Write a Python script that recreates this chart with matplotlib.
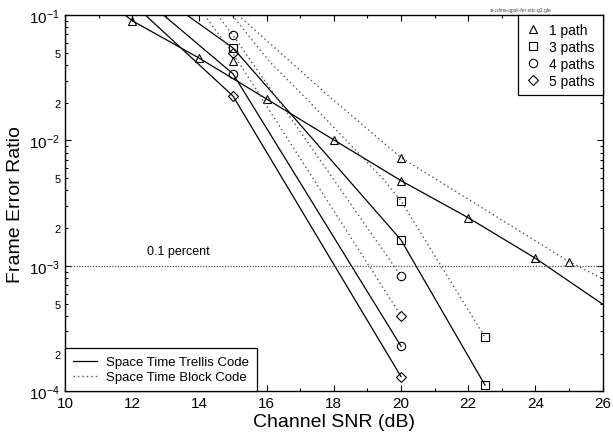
import matplotlib
matplotlib.use("Agg")
import matplotlib.pyplot as plt
from matplotlib.lines import Line2D
from matplotlib.ticker import LogLocator, FuncFormatter, MultipleLocator
import numpy as np

plt.rcParams['font.family'] = ['Liberation Sans', 'DejaVu Sans']

# Space Time Trellis Code (solid)
snr_sttc_1 = [10, 12, 14, 16, 18, 20, 22, 24, 26]
fer_sttc_1 = [0.24, 0.090, 0.0452, 0.0214, 0.0101, 0.00478, 0.00242, 0.00115, 0.000495]
snr_sttc_3 = [10, 15, 20, 22.5]
fer_sttc_3 = [0.49, 0.0547, 0.00161, 0.000112]
snr_sttc_4 = [10, 15, 20]
fer_sttc_4 = [0.46, 0.034, 0.000229]
snr_sttc_5 = [10, 15, 20]
fer_sttc_5 = [0.39, 0.0226, 0.000131]

# Space Time Block Code (dotted curves)
snr_stbc_1 = [15.15, 17.95, 20, 25, 26]
fer_stbc_1 = [0.1, 0.0214, 0.0073, 0.00108, 0.00079]
snr_stbc_3 = [14.97, 16.1, 17.19, 19.47, 20, 22.5]
fer_stbc_3 = [0.1, 0.0422, 0.0214, 0.00492, 0.0033, 0.00027]
snr_stbc_4 = [14.54, 15, 20]
fer_stbc_4 = [0.1, 0.069, 0.00083]
snr_stbc_5 = [14.15, 15, 20]
fer_stbc_5 = [0.1, 0.0494, 0.0004]

# STBC measured points (markers)
pts_stbc_1_x = [15, 20, 25]
pts_stbc_1_y = [0.0428, 0.0073, 0.00108]
pts_stbc_3_x = [20, 22.5]
pts_stbc_3_y = [0.0033, 0.00027]
pts_stbc_4_x = [15, 20]
pts_stbc_4_y = [0.069, 0.00083]
pts_stbc_5_x = [15, 20]
pts_stbc_5_y = [0.0494, 0.0004]

threshold = 1e-3

fig = plt.figure(figsize=(6.13, 4.39), dpi=100)
ax = fig.add_axes([0.106, 0.1064, 0.877, 0.8572])

mk = dict(markerfacecolor='none', markeredgecolor='black', markeredgewidth=0.8, markersize=6)
mkd = dict(markerfacecolor='none', markeredgecolor='black', markeredgewidth=0.8, markersize=5)
dot = (0, (1, 2.2))
dcol = '#555555'

ax.plot(snr_sttc_1, fer_sttc_1, '-', color='black', lw=0.9, marker='^', markevery=list(range(1, 8)), **mk)
ax.plot(snr_sttc_3, fer_sttc_3, '-', color='black', lw=0.9, marker='s', markevery=[1, 2, 3], **mk)
ax.plot(snr_sttc_4, fer_sttc_4, '-', color='black', lw=0.9, marker='o', markevery=[1, 2], **mk)
ax.plot(snr_sttc_5, fer_sttc_5, '-', color='black', lw=0.9, marker='D', markevery=[1, 2], **mkd)

ax.plot(snr_stbc_1, fer_stbc_1, linestyle=dot, color=dcol, lw=1.0)
ax.plot(snr_stbc_3, fer_stbc_3, linestyle=dot, color=dcol, lw=1.0)
ax.plot(snr_stbc_4, fer_stbc_4, linestyle=dot, color=dcol, lw=1.0)
ax.plot(snr_stbc_5, fer_stbc_5, linestyle=dot, color=dcol, lw=1.0)

ax.plot(pts_stbc_1_x, pts_stbc_1_y, linestyle='none', marker='^', **mk)
ax.plot(pts_stbc_3_x, pts_stbc_3_y, linestyle='none', marker='s', **mk)
ax.plot(pts_stbc_4_x, pts_stbc_4_y, linestyle='none', marker='o', **mk)
ax.plot(pts_stbc_5_x, pts_stbc_5_y, linestyle='none', marker='D', **mkd)

ax.axhline(threshold, color=dcol, linestyle=(0, (1, 1.2)), lw=0.9)
ax.text(12.45, 1.25e-3, '0.1 percent', fontsize=9)

ax.set_yscale('log')
ax.set_xlim(10, 26)
ax.set_ylim(1e-4, 1e-1)
ax.xaxis.set_major_locator(MultipleLocator(2))
ax.xaxis.set_minor_locator(MultipleLocator(1))
ax.yaxis.set_major_locator(LogLocator(base=10, numticks=10))
ax.yaxis.set_minor_locator(LogLocator(base=10, subs=np.arange(2, 10), numticks=20))


def minor_fmt(v, pos):
    m = round(v / 10 ** np.floor(np.log10(v) + 1e-9))
    return str(m) if m in (2, 5) else ''


ax.yaxis.set_minor_formatter(FuncFormatter(minor_fmt))
ax.tick_params(which='both', direction='in', top=True, right=True, width=0.8)
ax.tick_params(which='major', length=4, labelsize=11)
ax.tick_params(axis='y', which='minor', length=2.5, labelsize=8)
ax.tick_params(axis='x', which='minor', length=2.5)
for s in ax.spines.values():
    s.set_linewidth(1.0)

ax.set_xlabel('Channel SNR (dB)', fontsize=14, labelpad=2)
ax.set_ylabel('Frame Error Ratio', fontsize=14, labelpad=4)

h1 = [Line2D([], [], linestyle='none', marker='^', **mk),
      Line2D([], [], linestyle='none', marker='s', **mk),
      Line2D([], [], linestyle='none', marker='o', **mk),
      Line2D([], [], linestyle='none', marker='D', **mkd)]
leg1 = ax.legend(h1, ['1 path', '3 paths', '4 paths', '5 paths'], loc='upper right',
                 borderaxespad=0, fancybox=False, edgecolor='black', framealpha=1,
                 fontsize=10, handlelength=1.1, handletextpad=0.6, labelspacing=0.22,
                 borderpad=0.55)
leg1.get_frame().set_linewidth(0.9)
ax.add_artist(leg1)

h2 = [Line2D([], [], color='black', lw=0.9),
      Line2D([], [], color=dcol, lw=1.0, linestyle=dot)]
leg2 = ax.legend(h2, ['Space Time Trellis Code', 'Space Time Block Code'], loc='lower left',
                 borderaxespad=0, fancybox=False, edgecolor='black', framealpha=1,
                 fontsize=9.5, handlelength=1.8, handletextpad=0.7, labelspacing=0.2,
                 borderpad=0.6)
leg2.get_frame().set_linewidth(0.9)

fig.text(0.90, 0.972, 'st-cdma-qpsk-fer-sttc-g2.gle', fontsize=3.5, color='#444444', ha='right')

fig.savefig('out.png', dpi=100)
